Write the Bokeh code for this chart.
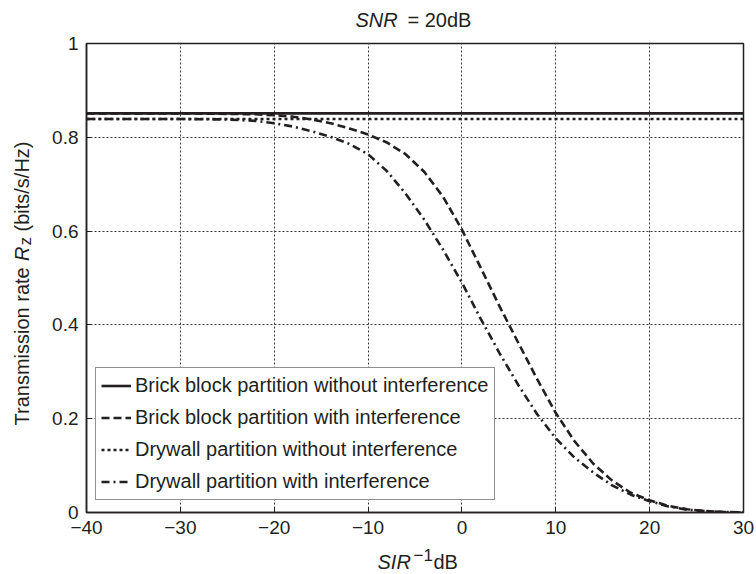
import math
from bokeh.plotting import figure
from bokeh.layouts import column, row
from bokeh.models import Range1d, Label, Legend, LegendItem
from bokeh.embed import file_html
from bokeh.resources import INLINE

# ---------------- data ----------------
sir_db = [-40, -35, -30, -25, -22, -20, -18, -16, -14, -12, -10, -8, -6, -4, -2,
          0, 2, 4, 6, 8, 10, 12, 14, 16, 18, 20, 22, 24, 26, 28, 30]
brick_with = [0.851, 0.851, 0.851, 0.850, 0.849, 0.847, 0.844, 0.838, 0.830, 0.819,
              0.806, 0.789, 0.764, 0.726, 0.673, 0.603, 0.522, 0.440, 0.362, 0.285,
              0.212, 0.152, 0.104, 0.068, 0.042, 0.026, 0.014, 0.007, 0.003, 0.001, 0.0]
drywall_with = [0.839, 0.839, 0.839, 0.838, 0.835, 0.830, 0.823, 0.813, 0.801, 0.786,
                0.764, 0.728, 0.680, 0.624, 0.560, 0.490, 0.413, 0.340, 0.272, 0.210,
                0.158, 0.117, 0.085, 0.058, 0.038, 0.024, 0.013, 0.006, 0.003, 0.001, 0.0]
flat_x = [-40, 30]
brick_without = [0.851, 0.851]
drywall_without = [0.839, 0.839]

series_names = ["Brick block partition without interference",
                "Brick block partition with interference",
                "Drywall partition without interference",
                "Drywall partition with interference"]

x_ticks = [-40, -30, -20, -10, 0, 10, 20, 30]
x_tick_labels = ["\u221240", "\u221230", "\u221220", "\u221210", "0", "10", "20", "30"]
y_ticks = [0, 0.2, 0.4, 0.6, 0.8, 1]
y_tick_labels = ["0", "0.2", "0.4", "0.6", "0.8", "1"]

# ---------------- layout (page pixels) ----------------
W, H = 756, 573
TITLE_H = 34          # title strip height
YLAB_W = 46           # y-label strip width
XLAB_H = 29           # x-label strip height
MAIN_W = W - YLAB_W
MAIN_H = H - TITLE_H - XLAB_H
B_TOP, B_BOT = 9, 32  # main-plot borders above / below the frame
FONT = "Liberation Sans"
INK = "#231f20"
FS = "20px"
TICK_FS = "19px"

# main plot
p = figure(width=MAIN_W, height=MAIN_H, output_backend="svg", toolbar_location=None,
           title=None, x_range=Range1d(-40, 30), y_range=Range1d(0, 1),
           min_border_left=40, min_border_right=13,
           min_border_top=B_TOP, min_border_bottom=B_BOT)
p.background_fill_color = "white"
p.border_fill_color = "white"
p.outline_line_color = INK
p.outline_line_width = 1.5

p.xaxis.ticker = x_ticks
p.yaxis.ticker = y_ticks
p.xaxis.major_label_overrides = {t: l for t, l in zip(x_ticks, x_tick_labels)}
p.yaxis.major_label_overrides = {t: l for t, l in zip(y_ticks, y_tick_labels)}
for ax in (p.xaxis, p.yaxis):
    ax.axis_line_color = INK
    ax.axis_line_width = 1.5
    ax.major_tick_in = 5
    ax.major_tick_out = 0
    ax.major_tick_line_color = INK
    ax.minor_tick_line_color = None
    ax.major_label_text_font = FONT
    ax.major_label_text_font_size = TICK_FS
    ax.major_label_text_color = INK
    ax.major_label_standoff = 8

for g in (p.xgrid, p.ygrid):
    g.grid_line_color = "#3a3a3a"
    g.grid_line_dash = "2 2"
    g.grid_line_width = 1

LW = 2.6
r1 = p.line(flat_x, brick_without, line_color=INK, line_width=LW)
r2 = p.line(sir_db, brick_with, line_color=INK, line_width=LW, line_dash="8 4")
r3 = p.line(flat_x, drywall_without, line_color=INK, line_width=LW, line_dash="3 3")
r4 = p.line(sir_db, drywall_with, line_color=INK, line_width=LW, line_dash="8 4 2 4")

legend = Legend(items=[LegendItem(label=n, renderers=[r]) for n, r in
                       zip(series_names, [r1, r2, r3, r4])],
                location=(9, 12), label_text_font=FONT, label_text_font_size=FS,
                label_text_color=INK, glyph_width=30, glyph_height=25,
                label_height=25, spacing=7, padding=5, label_standoff=4,
                border_line_color=INK, border_line_width=1.3,
                background_fill_color="white", background_fill_alpha=1.0)
p.add_layout(legend)


# text strips: small figures whose data units are pixels
def strip(w, h, top=0, bottom=0):
    f = figure(width=w, height=h, output_backend="svg", toolbar_location=None,
               title=None, x_range=Range1d(0, w), y_range=Range1d(0, h - top - bottom),
               x_axis_type=None, y_axis_type=None, min_border=0,
               min_border_top=top, min_border_bottom=bottom)
    f.outline_line_color = None
    f.background_fill_color = "white"
    f.border_fill_color = "white"
    return f


def add_text(f, x, y, t, style="normal", size=FS, angle=0.0):
    f.add_layout(Label(x=x, y=y, text=t, text_font=FONT, text_font_size=size,
                       text_font_style=style, text_color=INK, angle=angle,
                       text_align="left", text_baseline="alphabetic"))


# title  "SNR = 20dB"
t_fig = strip(W, TITLE_H)
add_text(t_fig, 355, 15, "SNR", "italic")
add_text(t_fig, 407, 15, "= 20dB")

# y label  "Transmission rate R_z (bits/s/Hz)"  (rotated, reading upward)
y_fig = strip(YLAB_W, MAIN_H, B_TOP, B_BOT)
A = math.pi / 2
add_text(y_fig, 21, 87, "Transmission rate", angle=A)
add_text(y_fig, 21, 251.5, "R", "italic", angle=A)
add_text(y_fig, 25, 267, "z", size="17px", angle=A)
add_text(y_fig, 21, 281, "(bits/s/Hz)", angle=A)

# x label  "SIR^-1 dB"
x_fig = strip(W, XLAB_H)
add_text(x_fig, 377, 12, "SIR", "italic")
add_text(x_fig, 413, 19, "\u22121", size="17px")
add_text(x_fig, 433, 12, "dB")

layout = column(t_fig, row(y_fig, p), x_fig)
open("out.html", "w").write(file_html(layout, INLINE))
